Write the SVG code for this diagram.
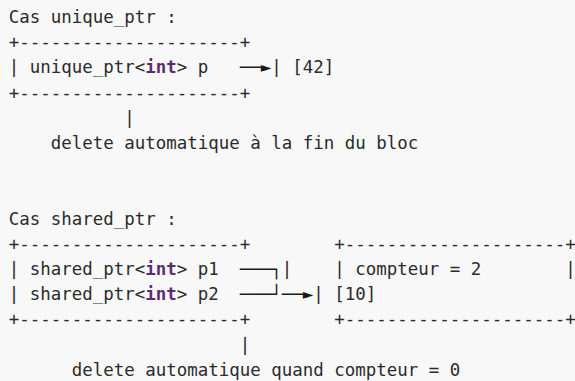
<svg xmlns="http://www.w3.org/2000/svg" width="575" height="381" viewBox="0 0 575 381">
<style>
text{font-family:"DejaVu Sans Mono","Liberation Mono",monospace;font-size:17.44px;fill:#2b2b2b;white-space:pre}
.kw{font-weight:bold;fill:#5c2d6e}
.ar{fill:#1a1a1a}
</style>
<rect width="575" height="381" fill="#f8f8f8"/>
<g id="title-unique"><text x="8.75" y="23">Cas unique_ptr :</text></g>
<g id="node-unique-box">
<text x="8.75" y="48.2">+---------------------+</text>
<text x="8.75" y="73.4">| unique_ptr&lt;<tspan class="kw">int</tspan>&gt; p</text>
<text x="8.75" y="98.6">+---------------------+</text>
</g>
<g id="node-value-42"><text x="271.25" y="73.4">| [42]</text></g>
<g id="note-unique"><text x="50.75" y="149">delete automatique à la fin du bloc</text></g>
<g id="title-shared"><text x="8.75" y="224.6">Cas shared_ptr :</text></g>
<g id="node-shared-box">
<text x="8.75" y="249.8">+---------------------+</text>
<text x="8.75" y="275">| shared_ptr&lt;<tspan class="kw">int</tspan>&gt; p1</text>
<text x="8.75" y="300.2">| shared_ptr&lt;<tspan class="kw">int</tspan>&gt; p2</text>
<text x="8.75" y="325.4">+---------------------+</text>
</g>
<g id="node-value-10">
<text x="281.75" y="275">|</text>
<text x="313.25" y="300.2">| [10]</text>
</g>
<g id="node-counter">
<text x="334.25" y="249.8">+---------------------+</text>
<text x="334.25" y="275">| compteur = 2</text>
<text x="565.25" y="275">|</text>
<text x="334.25" y="325.4">+---------------------+</text>
</g>
<g id="note-shared"><text x="71.75" y="375.8">delete automatique quand compteur = 0</text></g>
<g id="connectors">
<text class="ar" x="239.75" y="73.4">──►</text>
<text x="124.25" y="123.8">|</text>
<text class="ar" x="239.75" y="275">───┐</text>
<text class="ar" x="239.75" y="300.2">───┘──►</text>
<text x="239.75" y="350.6">|</text>
</g>
</svg>
